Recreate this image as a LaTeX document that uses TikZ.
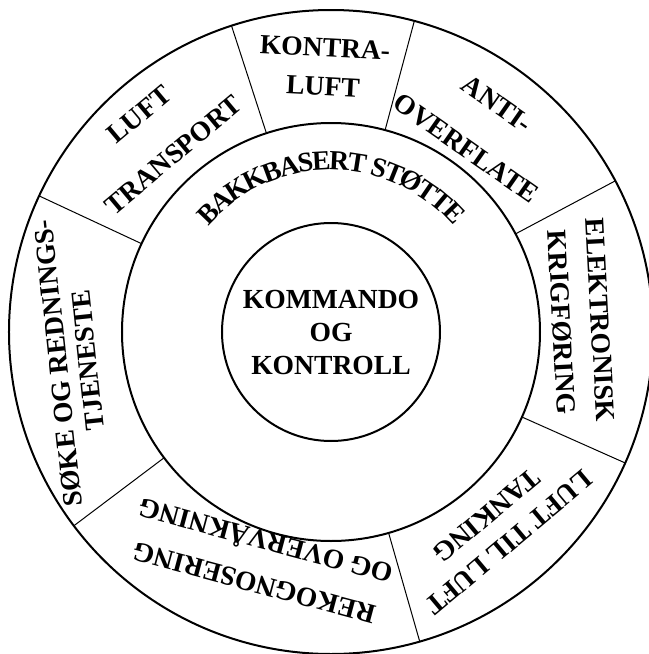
\documentclass[tikz,border=0pt]{standalone}
\usepackage{fontspec}
\setmainfont{Liberation Serif}
\usetikzlibrary{decorations.text}
\newcommand{\wheelfont}{\bfseries\fontsize{20.7}{27}\selectfont}
\tikzset{
  every picture/.style={x=0.75pt, y=0.75pt, line width=1.5pt},
  ring/.style={draw, circle, minimum size=#1, inner sep=0pt, outer sep=0pt},
  spoke/.style={line width=0.75pt},
  sector/.style={font=\wheelfont, align=center, inner sep=0pt},
}

\begin{document}
\begin{tikzpicture}
  \useasboundingbox (-331,-322) rectangle (318,332);
  \node[ring=483pt] (outer) at (0,0) {};
  \node[ring=313.5pt] (middle) at (0,0) {};
  \node[ring=163.5pt, font=\wheelfont, align=center] (core) at (0,0) {KOMMANDO\\[-2.25pt]OG\\[-2.25pt]KONTROLL};
  % spokes between the two outer rings
  \foreach \a in {108, 75, 28.5, 336, 286.4, 217.5, 155}
    \draw[spoke] (middle.\a) -- (outer.\a);
  % outer sectors
  \node[sector, rotate=-3] (kontra) at (91.5:265) {KONTRA-\\[2pt]LUFT};
  \node[sector, rotate=40] (transport) at (131.5:263.5) {LUFT\\[12.75pt]TRANSPORT};
  \node[sector, rotate=-35] (anti) at (53.8:255) {ANTI-\\[13.5pt]OVERFLATE};
  \node[sector, rotate=-87] (krig) at (2.5:250) {ELEKTRONISK\\[2pt]KRIGFØRING};
  \node[sector, rotate=-140] (tanking) at (-49.8:258) {LUFT TIL LUFT\\[-0.75pt]TANKING};
  \node[sector, rotate=165] (rekog) at (-107.2:240.7) {REKOGNOSERING\\[6pt]OG OVERVÅKNING};
  \node[sector, rotate=96] (redning) at (186.6:260) {SØKE OG REDNINGS-\\[-4.5pt]TJENESTE};
  % middle ring text along the arc
  \path[decorate, decoration={text along path, text align=center, raise=-14.25pt,
      text={|\wheelfont|BAKKBASERT STØTTE}}]
    (150:181) arc[start angle=150, end angle=30, radius=181];
\end{tikzpicture}
\end{document}
